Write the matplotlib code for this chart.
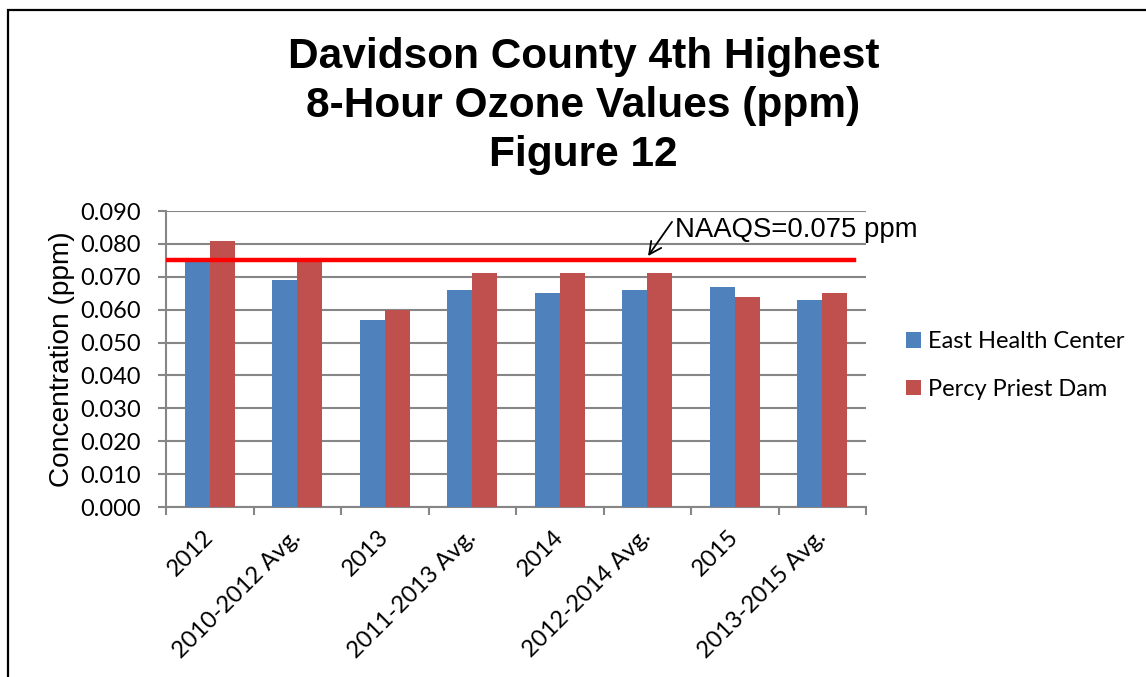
import matplotlib
matplotlib.use("Agg")
import matplotlib.pyplot as plt
from matplotlib.patches import Rectangle
import numpy as np

categories = ["2012", "2010-2012 Avg.", "2013", "2011-2013 Avg.", "2014",
              "2012-2014 Avg.", "2015", "2013-2015 Avg."]
east_health = [0.075, 0.069, 0.057, 0.066, 0.065, 0.066, 0.067, 0.063]
percy_priest = [0.081, 0.075, 0.060, 0.071, 0.071, 0.071, 0.064, 0.065]
naaqs = 0.075
yticks = [0.0, 0.01, 0.02, 0.03, 0.04, 0.05, 0.06, 0.07, 0.08, 0.09]

W, H = 1146, 677
fig = plt.figure(figsize=(W / 100, H / 100), dpi=100)
fig.patch.set_facecolor("white")

# outer frame
fig.add_artist(Rectangle((8 / W, -0.1), 2.0, 1 - 10 / H + 0.1, transform=fig.transFigure,
                         fill=False, edgecolor="black", linewidth=1.6))

ax = fig.add_axes([166 / W, 1 - 507 / H, 700 / W, 296 / H])
x = np.arange(len(categories))
bw = 0.286
ax.bar(x - bw / 2, east_health, bw, color="#4F81BD", label="East Health Center", zorder=3)
ax.bar(x + bw / 2, percy_priest, bw, color="#C0504D", label="Percy Priest Dam", zorder=3)

ax.set_xlim(-0.5, len(categories) - 0.5)
ax.set_ylim(0, 0.09)
ax.set_yticks(yticks)
ax.set_yticklabels([f"{v:.3f}" for v in yticks], fontfamily="Lato", fontsize=17)
ax.yaxis.grid(True, color="#868686", linewidth=1.5, zorder=0)
ax.set_axisbelow(True)

# category labels at centers, ticks at boundaries
ax.set_xticks(x)
ax.set_xticklabels(categories, rotation=45, ha="right", va="center",
                   rotation_mode="anchor", fontfamily="Lato", fontsize=17)
ax.tick_params(axis="x", length=0, pad=19)
ax.set_xticks(np.arange(-0.5, len(categories), 1.0), minor=True)
ax.tick_params(axis="x", which="minor", length=6, width=1.5, color="#868686", direction="out")
ax.tick_params(axis="y", length=6, width=1.5, color="#868686", direction="out", pad=12)

for s in ["top", "right"]:
    ax.spines[s].set_visible(False)
for s in ["left", "bottom"]:
    ax.spines[s].set_color("#868686")
    ax.spines[s].set_linewidth(1.5)

ax.axhline(naaqs, xmin=0, xmax=0.983, color="#FF0000", linewidth=3.2, zorder=4)
ax.text(5.317, 0.0821, "NAAQS=0.075 ppm", fontsize=19.8, fontfamily="Liberation Sans",
        va="baseline", ha="left", zorder=5)
ax.annotate("", xy=(5.009, 0.0763), xytext=(5.283, 0.0867),
            arrowprops=dict(arrowstyle="->", color="black", lw=1.3, mutation_scale=22,
                            shrinkA=0, shrinkB=0), zorder=5)

fig.text(62 / W, 1 - 359.5 / H, "Concentration (ppm)", rotation=90, ha="center", va="center",
         fontsize=20.2, fontfamily="Liberation Sans")

leg = ax.legend(loc="center left", bbox_to_anchor=(906 / W, 1 - 365.5 / H),
                bbox_transform=fig.transFigure, frameon=False, borderpad=0, borderaxespad=0,
                prop={"family": "Lato", "size": 17}, handlelength=0.64,
                handleheight=0.64, handletextpad=0.3, labelspacing=1.12)

title_lines = ["Davidson County 4th Highest", "8-Hour Ozone Values (ppm)", "Figure 12"]
for line, yc in zip(title_lines, [57, 106, 155]):
    fig.text(583.5 / W, 1 - yc / H, line, ha="center", va="center", fontsize=30.5,
             fontweight="bold", fontfamily="Liberation Sans")

fig.savefig("out.png", dpi=100)
